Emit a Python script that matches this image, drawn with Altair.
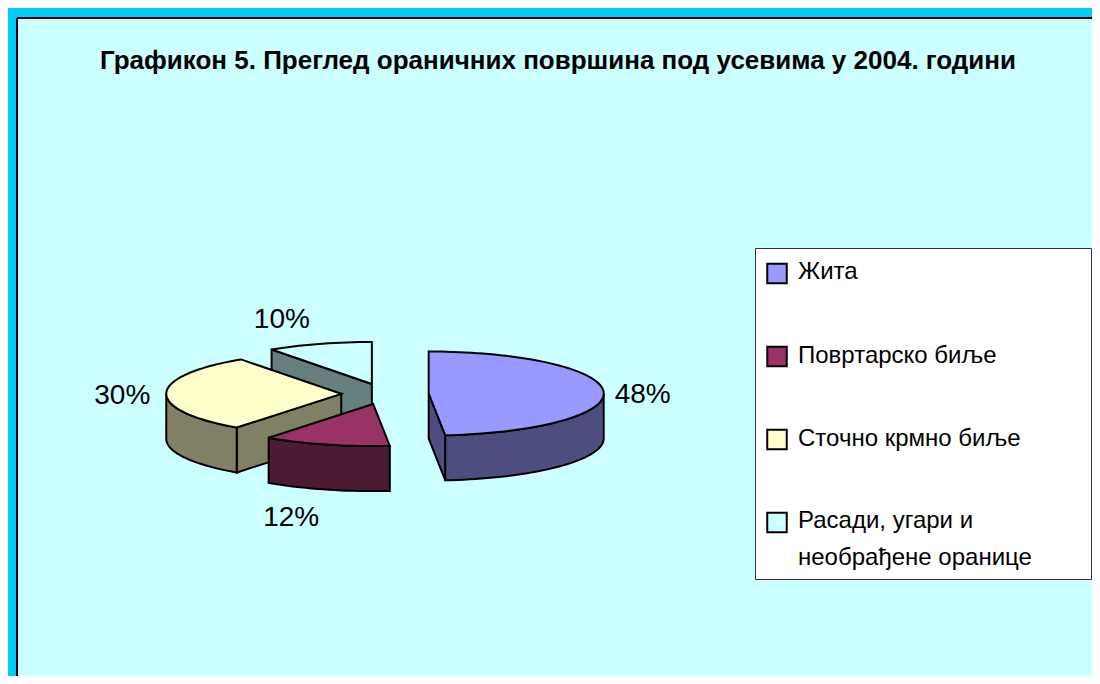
import math
import altair as alt

# ---- data ----
categories = ["Жита", "Повртарско биље", "Сточно крмно биље", "Расади, угари и\nнеобрађене оранице"]
values = [48.49, 11.7, 30.1, 9.71]
face_colors = ["#9999FF", "#993366", "#FFFFCC", "#CCFFFF"]
wall_colors = ["#4D4D80", "#4D1A33", "#808066", "#668080"]
draw_order = [3, 2, 0, 1]

# ---- layout (page pixels; the view starts at ORIGIN) ----
ORIGIN = (17, 18)
W, H = 1075, 658
CX, CY = 385, 394
RX, RY = 175, 42
DEPTH = 45
EXPLODE = 0.25
LABEL_OFF = [(214, 1), (-82, 114), (-219, 2), (-90, -64)]
FONT = "Liberation Sans"
TWO_PI = 2 * math.pi


def pt(cx, cy, a, dy=0.0):
    return [cx + RX * math.sin(a) - ORIGIN[0], cy - RY * math.cos(a) + dy - ORIGIN[1]]


def arc(cx, cy, a0, a1, dy=0.0):
    n = max(2, int(abs(a1 - a0) / math.radians(2)))
    return [pt(cx, cy, a0 + (a1 - a0) * i / n, dy) for i in range(n + 1)]


def poly(points, color):
    return {"type": "Feature", "properties": {"color": color},
            "geometry": {"type": "Polygon", "coordinates": [points + [points[0]]]}}


total = sum(values)
spans, a = [], 0.0
for v in values:
    b = a + TWO_PI * v / total
    spans.append((a, b))
    a = b

centres = []
for (a0, b0) in spans:
    mid = (a0 + b0) / 2
    centres.append((CX + EXPLODE * RX * math.sin(mid), CY - EXPLODE * RY * math.cos(mid)))

slices = []
for i in draw_order:
    a0, b0 = spans[i]
    cx, cy = centres[i]
    apex = [cx - ORIGIN[0], cy - ORIGIN[1]]
    apex_low = [apex[0], apex[1] + DEPTH]
    # radial walls that face the viewer: leading edge in the left half, trailing edge in the right half
    edges = []
    if math.pi < a0 < TWO_PI:
        edges.append(a0)
    if 0 < b0 < math.pi:
        edges.append(b0)
    for e in edges:
        p = pt(cx, cy, e)
        slices.append(poly([apex, p, [p[0], p[1] + DEPTH], apex_low], wall_colors[i]))
    # front part of the rim
    lo, hi = max(a0, math.pi / 2), min(b0, 3 * math.pi / 2)
    if hi > lo:
        slices.append(poly(arc(cx, cy, lo, hi) + arc(cx, cy, hi, lo, DEPTH), wall_colors[i]))
    # top face
    slices.append(poly([apex] + arc(cx, cy, a0, b0), face_colors[i]))

pie = (
    alt.Chart(alt.Data(values=slices))
    .mark_geoshape(stroke="#000000", strokeWidth=2, strokeJoin="miter")
    .encode(fill=alt.Fill("properties.color:N", scale=None))
    .project(type="identity", scale=1, translate=[0, 0])
)


def px(x, y):
    return {"x": x - ORIGIN[0], "y": y - ORIGIN[1]}


X = alt.X("x:Q", scale=None, axis=None)
Y = alt.Y("y:Q", scale=None, axis=None)

pct_rows = []
for i, v in enumerate(values):
    cx, cy = centres[i]
    pct_rows.append({**px(cx + LABEL_OFF[i][0], cy + LABEL_OFF[i][1]), "t": f"{round(v)}%"})
pct = alt.Chart(alt.Data(values=pct_rows)).mark_text(
    font=FONT, fontSize=28, color="#000000", align="center", baseline="middle"
).encode(x=X, y=Y, text="t:N")

title_rows = [{**px(558, 69), "t": "Графикон 5. Преглед ораничних површина под усевима у 2004. години"}]
title = alt.Chart(alt.Data(values=title_rows)).mark_text(
    font=FONT, fontSize=26, fontWeight="bold", color="#000000", align="center", baseline="alphabetic"
).encode(x=X, y=Y, text="t:N")

legend_box = alt.Chart(alt.Data(values=[{**px(755.5, 248.5), "x2": 1091.5 - ORIGIN[0], "y2": 579.5 - ORIGIN[1]}])).mark_rect(
    fill="#FFFFFF", stroke="#333333", strokeWidth=1
).encode(x=X, y=Y, x2="x2:Q", y2="y2:Q")

swatch_y = [273.5, 356.5, 439.5, 522.5]
swatches = alt.Chart(alt.Data(values=[{**px(777, y), "c": c} for y, c in zip(swatch_y, face_colors)])).mark_square(
    size=380, opacity=1, stroke="#000000", strokeWidth=2
).encode(x=X, y=Y, fill=alt.Fill("c:N", scale=None))

baselines = [[279], [363], [446], [528, 565]]
legend_rows = []
for cat, ys in zip(categories, baselines):
    for line, y in zip(cat.split("\n"), ys):
        legend_rows.append({**px(798, y), "t": line})
legend_text = alt.Chart(alt.Data(values=legend_rows)).mark_text(
    font=FONT, fontSize=24, color="#000000", align="left", baseline="alphabetic"
).encode(x=X, y=Y, text="t:N")

frame_left = alt.Chart(alt.Data(values=[{"a": 0}])).mark_rule(color="#000000", strokeWidth=2).encode(
    x=alt.value(0), y=alt.value(0), y2=alt.value(H))
frame_top = alt.Chart(alt.Data(values=[{"a": 0}])).mark_rule(color="#000000", strokeWidth=2).encode(
    y=alt.value(0), x=alt.value(0), x2=alt.value(W))

chart = (
    alt.layer(pie, pct, title, legend_box, swatches, legend_text, frame_left, frame_top)
    .properties(
        width=W, height=H, background="#00CCFF",
        padding={"left": ORIGIN[0] - 8, "top": ORIGIN[1] - 8, "right": 0, "bottom": 0},
        autosize=alt.AutoSizeParams(type="none"),
    )
    .configure_view(fill="#CCFFFF", stroke=None)
)
chart.save("out.html", embed_options={"renderer": "svg", "actions": False})
